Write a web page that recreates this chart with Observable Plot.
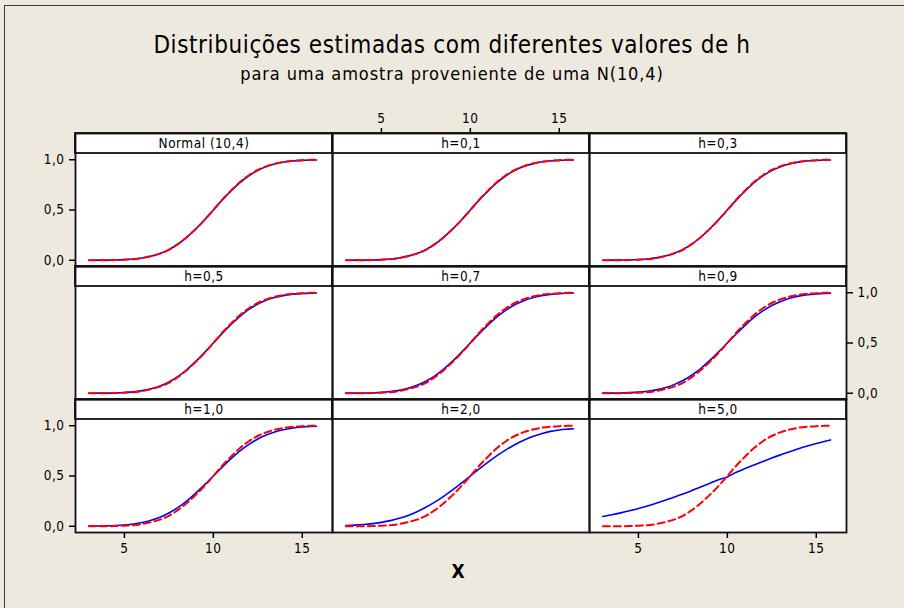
<!DOCTYPE html>
<html>
<head>
<meta charset="utf-8">
<script src="https://cdn.jsdelivr.net/npm/d3@7"></script>
<script src="https://cdn.jsdelivr.net/npm/@observablehq/plot@0.6"></script>
<style>
  html, body { margin: 0; padding: 0; background: #ede9df; }
  #chart { position: relative; width: 904px; height: 608px; overflow: hidden; background: #ede9df;
           font-family: "DejaVu Sans Condensed", "DejaVu Sans", sans-serif; color: #000; }
  #border { position: absolute; left: 4px; top: 5px; width: 940px; height: 640px;
            border-top: 1px solid #3a3a3a; border-left: 1px solid #3a3a3a; }
  #head { position: relative; height: 100px; }
  #title { position: absolute; left: 0; width: 904px; top: 31px; text-align: center; font-size: 24px;
           letter-spacing: 0.6px; }
  #subtitle { position: absolute; left: 0; width: 904px; top: 63px; text-align: center; font-size: 18px;
              letter-spacing: 0.9px; }
  #xlabel { position: absolute; left: 0; width: 916px; top: 560px; text-align: center; font-size: 19px;
            font-weight: bold; }
  svg { display: block; }
</style>
</head>
<body>
<div id="chart">
  <div id="border"></div>
  <div id="head">
    <div id="title">Distribuições estimadas com diferentes valores de h</div>
    <div id="subtitle">para uma amostra proveniente de uma N(10,4)</div>
  </div>
  <div id="plot"></div>
  <div id="xlabel">X</div>
</div>
<script>
// Evaluation grid shared by every curve
const xs = [3, 3.5, 4, 4.5, 5, 5.5, 6, 6.5, 7, 7.5, 8, 8.5, 9, 9.5, 10,
            10.5, 11, 11.5, 12, 12.5, 13, 13.5, 14, 14.5, 15, 15.5, 15.8];

// Red dashed curve (same in every panel)
const reference = [0.000, 0.000, 0.000, 0.002, 0.006, 0.010, 0.022, 0.041, 0.066, 0.104, 0.160, 0.230, 0.310, 0.400,
                   0.500, 0.602, 0.694, 0.778, 0.846, 0.898, 0.936, 0.962, 0.980, 0.990, 0.996, 0.999, 1.000];

// Blue curves, one per panel
const normal104 = [0.000, 0.001, 0.001, 0.003, 0.006, 0.012, 0.023, 0.040, 0.067, 0.106, 0.159, 0.227, 0.309, 0.401,
                   0.500, 0.599, 0.691, 0.773, 0.841, 0.894, 0.933, 0.960, 0.977, 0.988, 0.994, 0.997, 0.998];
const h01 = [0.000, 0.001, 0.001, 0.003, 0.006, 0.012, 0.023, 0.041, 0.067, 0.106, 0.159, 0.228, 0.310, 0.401,
             0.500, 0.599, 0.690, 0.772, 0.841, 0.894, 0.933, 0.959, 0.977, 0.988, 0.994, 0.997, 0.998];
const h03 = [0.000, 0.001, 0.002, 0.003, 0.007, 0.013, 0.024, 0.042, 0.069, 0.108, 0.161, 0.229, 0.311, 0.402,
             0.500, 0.598, 0.689, 0.771, 0.839, 0.892, 0.931, 0.958, 0.976, 0.987, 0.993, 0.997, 0.998];
const h05 = [0.000, 0.001, 0.001, 0.004, 0.008, 0.014, 0.026, 0.045, 0.073, 0.112, 0.166, 0.234, 0.314, 0.404,
             0.500, 0.596, 0.686, 0.766, 0.834, 0.888, 0.927, 0.955, 0.974, 0.986, 0.992, 0.996, 0.997];
const h07 = [0.001, 0.001, 0.002, 0.005, 0.009, 0.017, 0.029, 0.049, 0.079, 0.119, 0.173, 0.240, 0.319, 0.407,
             0.500, 0.593, 0.681, 0.760, 0.827, 0.881, 0.921, 0.951, 0.971, 0.983, 0.991, 0.995, 0.997];
const h09 = [0.001, 0.001, 0.003, 0.006, 0.011, 0.020, 0.034, 0.055, 0.086, 0.127, 0.181, 0.246, 0.324, 0.410,
             0.500, 0.590, 0.676, 0.754, 0.819, 0.873, 0.914, 0.945, 0.966, 0.980, 0.989, 0.994, 0.996];
const h10 = [0.001, 0.002, 0.004, 0.007, 0.013, 0.022, 0.037, 0.059, 0.090, 0.132, 0.186, 0.251, 0.328, 0.412,
             0.500, 0.588, 0.672, 0.749, 0.814, 0.868, 0.910, 0.941, 0.963, 0.978, 0.987, 0.993, 0.995];
const h20 = [0.007, 0.011, 0.017, 0.026, 0.039, 0.056, 0.079, 0.108, 0.145, 0.189, 0.240, 0.298, 0.362, 0.430,
             0.500, 0.570, 0.638, 0.702, 0.760, 0.811, 0.855, 0.892, 0.921, 0.944, 0.958, 0.966, 0.970];
const h50 = [0.097, 0.114, 0.133, 0.154, 0.177, 0.202, 0.229, 0.258, 0.289, 0.321, 0.355, 0.390, 0.426, 0.463,
             0.490, 0.537, 0.574, 0.610, 0.645, 0.679, 0.711, 0.742, 0.771, 0.798, 0.823, 0.846, 0.859];

const panelLabels = ["Normal (10,4)", "h=0,1", "h=0,3", "h=0,5", "h=0,7", "h=0,9", "h=1,0", "h=2,0", "h=5,0"];
const panelCurves = [normal104, h01, h03, h05, h07, h09, h10, h20, h50];

// Axis ticks and their labels
const xTicks = [5, 10, 15];
const xTickLabels = ["5", "10", "15"];
const yTicks = [0, 0.5, 1];
const yTickLabels = ["0,0", "0,5", "1,0"];

// Scale domains: y extends above 1 to leave room for each panel's strip
const xDomain = [2.25, 16.7];
const yDomain = [-0.062, 1.261];
const stripBottom = 1.062;

// Panels laid out row by row in a 3 x 3 grid
const panels = panelLabels.map((label, i) => ({label, col: i % 3, row: Math.floor(i / 3)}));

const blueRows = panels.flatMap((p, i) => xs.map((x, j) => ({x, y: panelCurves[i][j], col: p.col, row: p.row, panel: i})));
const redRows = panels.flatMap((p, i) => xs.map((x, j) => ({x, y: reference[j], col: p.col, row: p.row, panel: i})));

// Axes alternate around the grid: [column, row] of the panels that carry them
const tickRows = (cells, ticks, labels) =>
  cells.flatMap(([col, row]) => ticks.map((v, k) => ({col, row, v, label: labels[k]})));
const leftAxis = tickRows([[0, 0], [0, 2]], yTicks, yTickLabels);
const rightAxis = tickRows([[2, 1]], yTicks, yTickLabels);
const topAxis = tickRows([[1, 0]], xTicks, xTickLabels);
const bottomAxis = tickRows([[0, 2], [2, 2]], xTicks, xTickLabels);

const ink = "#111";
const axisOpts = {fx: "col", fy: "row", text: "label", facetAnchor: null, tickSize: 6, tickPadding: 5,
                  strokeWidth: 1.5, fontSize: 13.5, label: null};

const chart = Plot.plot({
  width: 904,
  height: 508,
  marginLeft: 75,
  marginRight: 58,
  marginTop: 33,
  marginBottom: 76,
  style: {background: "transparent", fontFamily: "'DejaVu Sans Condensed', 'DejaVu Sans', sans-serif",
          fontSize: "13.5px", color: "#000", overflow: "visible", letterSpacing: "0.5px"},
  x: {domain: xDomain, axis: null},
  y: {domain: yDomain, axis: null},
  fx: {domain: [0, 1, 2], padding: 0, axis: null},
  fy: {domain: [0, 1, 2], padding: 0, axis: null},
  marks: [
    Plot.frame({fill: "white"}),
    Plot.line(blueRows, {x: "x", y: "y", z: "panel", fx: "col", fy: "row",
                         stroke: "#0000ff", strokeWidth: 1.6, curve: "monotone-x"}),
    Plot.line(redRows, {x: "x", y: "y", z: "panel", fx: "col", fy: "row",
                        stroke: "#ff0000", strokeWidth: 2, strokeDasharray: "7,4", curve: "monotone-x"}),
    Plot.rect(panels, {x1: xDomain[0], x2: xDomain[1], y1: stripBottom, y2: yDomain[1], fx: "col", fy: "row",
                       fill: "white", stroke: ink, strokeWidth: 1.8}),
    Plot.text(panels, {x: (xDomain[0] + xDomain[1]) / 2, y: (stripBottom + yDomain[1]) / 2, text: "label",
                       fx: "col", fy: "row", fontSize: 13.5, fill: "#000"}),
    Plot.frame({stroke: ink, strokeWidth: 1.8}),
    Plot.axisY(leftAxis, {...axisOpts, y: "v", anchor: "left"}),
    Plot.axisY(rightAxis, {...axisOpts, y: "v", anchor: "right"}),
    Plot.axisX(topAxis, {...axisOpts, x: "v", anchor: "top"}),
    Plot.axisX(bottomAxis, {...axisOpts, x: "v", anchor: "bottom"})
  ]
});

document.getElementById("plot").appendChild(chart);
</script>
</body>
</html>
